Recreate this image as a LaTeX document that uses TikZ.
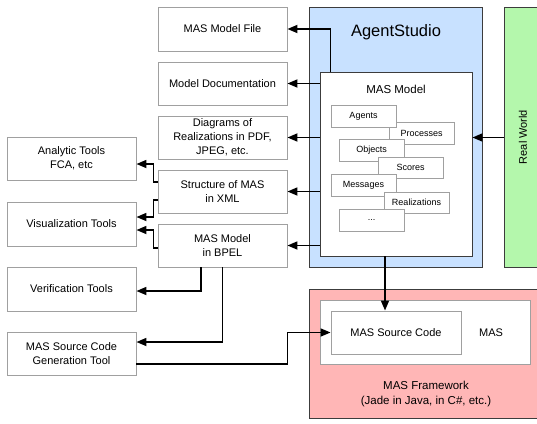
\documentclass[tikz,border=0pt]{standalone}
\usepackage{fontspec}
\setmainfont{Liberation Sans}
\usetikzlibrary{arrows.meta,calc}
\definecolor{studioblue}{RGB}{200,225,255}
\definecolor{worldgreen}{RGB}{180,247,172}
\definecolor{fwred}{RGB}{255,182,182}
\definecolor{boxgray}{RGB}{160,160,160}
\definecolor{darkline}{RGB}{60,60,60}
\tikzset{
  outbox/.style={draw=boxgray, line width=0.9pt, fill=white, align=center, inner sep=0pt,
    font=\fontsize{11}{14}\selectfont},
  smallbox/.style={draw=boxgray, line width=0.8pt, fill=white, inner sep=0pt,
    minimum width=65pt, minimum height=22pt, font=\fontsize{9}{10}\selectfont},
  arr/.style={line width=1.7pt, -{Triangle[length=10pt,width=8pt]}},
}
\begin{document}
\begin{tikzpicture}[x=1pt,y=-1pt]
\useasboundingbox (0,0) rectangle (537,423);
\begin{scope}
\clip (0,0) rectangle (537,423);
% big containers
\draw[fill=studioblue, draw=darkline, line width=0.9pt] (309,7) rectangle (482,267);
\node[font=\fontsize{16.5}{18}\selectfont] (studio) at (396,32) {AgentStudio};
\draw[fill=worldgreen, draw=darkline, line width=0.9pt] (504,7) rectangle (545,267);
\node[rotate=90, font=\fontsize{11}{13}\selectfont] (rwtext) at (523,137) {Real World};
\coordinate (rwwest) at (504,137.5);
\draw[fill=fwred, draw=darkline, line width=0.9pt] (309,289) rectangle (545,418);
\node[align=center, font=\fontsize{11.5}{15}\selectfont] (fwtext) at (426,394.5) {MAS Framework\\(Jade in Java, in C\#, etc.)};
\end{scope}

% MAS model container
\node[draw=darkline, line width=0.9pt, fill=white, minimum width=152pt, minimum height=184pt, inner sep=0pt] (mm) at (396,164) {};
\node[font=\fontsize{11.5}{13}\selectfont] (mmtext) at (396,89) {MAS Model};

% inner small boxes (drawing order matters)
\node[smallbox] (proc) at (421.5,133) {Processes};
\node[smallbox] (agents) at (363.5,116) {Agents};
\node[smallbox] (objects) at (371.5,150) {Objects};
\node[smallbox, minimum height=21pt] (scores) at (410.5,167.5) {Scores};
\node[smallbox] (messages) at (363.5,185) {Messages};
\node[smallbox, minimum height=21pt] (realiz) at (416.5,202.5) {Realizations};
\node[smallbox, minimum height=22pt] (dots) at (371.5,220) {...};

% MAS inner box in framework
\node[draw=boxgray, line width=0.9pt, fill=white, minimum width=210pt, minimum height=64pt, inner sep=0pt] (mas) at (425,332) {};
\node[font=\fontsize{11}{13}\selectfont] (mastext) at (491,332.5) {MAS};
\node[outbox, minimum width=130pt, minimum height=43pt] (src) at (396,332.5) {MAS Source Code};

% output boxes
\node[outbox, minimum width=129pt, minimum height=44pt] (mfile) at (222.5,29) {MAS Model File};
\node[outbox, minimum width=129pt, minimum height=43pt] (mdoc) at (222.5,83.5) {Model Documentation};
\node[outbox, minimum width=129pt, minimum height=43pt] (diag) at (222.5,137.5) {Diagrams of\\Realizations in PDF,\\JPEG, etc.};
\node[outbox, minimum width=129pt, minimum height=43pt] (xml) at (222.5,191.5) {Structure of MAS\\in XML};
\node[outbox, minimum width=129pt, minimum height=43pt] (bpel) at (222.5,245.5) {MAS Model\\in BPEL};

% tool boxes
\node[outbox, minimum width=129pt, minimum height=43pt] (analytic) at (71.5,158.5) {Analytic Tools\\FCA, etc};
\node[outbox, minimum width=129pt, minimum height=44pt] (vis) at (71.5,224) {Visualization Tools};
\node[outbox, minimum width=129pt, minimum height=44pt] (verif) at (71.5,289) {Verification Tools};
\node[outbox, minimum width=129pt, minimum height=43pt] (gen) at (71.5,353.5) {MAS Source Code\\Generation Tool};

% connectors
\draw[arr] ([xshift=11pt]mm.north west) |- (mfile.east);
\draw[arr] (mm.west |- mdoc.east) -- (mdoc.east);
\draw[arr] (mm.west |- diag.east) -- (diag.east);
\draw[arr] (mm.west |- xml.east) -- (xml.east);
\draw[arr] (mm.west |- bpel.east) -- (bpel.east);
\draw[arr] (rwwest) -- (rwwest -| mm.east);
\draw[arr] ([xshift=-11pt]mm.south) -- ([xshift=-11pt]src.north);

\draw[arr] ([yshift=9.5pt]xml.west) -- ++(-4,0) |- ([yshift=-5.5pt]analytic.east);
\draw[arr] ([yshift=-8.5pt]xml.west) -- ++(-4,0) |- ([yshift=7pt]vis.east);
\draw[arr] ([yshift=-2.5pt]bpel.west) -- ++(-4,0) |- ([yshift=-6pt]vis.east);
\draw[arr] ([xshift=-21.5pt]bpel.south) |- ([yshift=-2pt]verif.east);
\draw[arr] (bpel.south) |- ([yshift=11.5pt]gen.east);
\draw[arr] ([yshift=-10.5pt]gen.east) -- ++(151,0) |- (src.west);
\end{tikzpicture}
\end{document}
